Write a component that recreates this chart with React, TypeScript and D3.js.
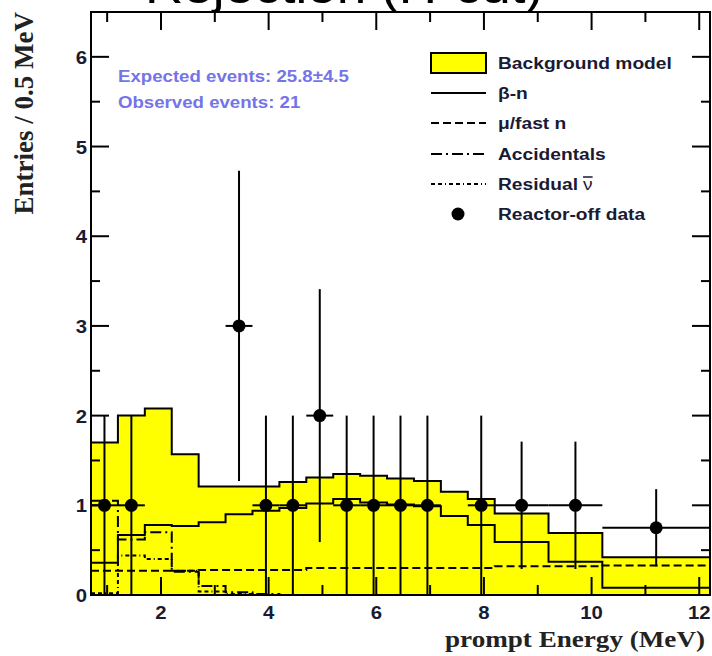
import * as React from "react";
import * as d3 from "d3";

// bin edges (MeV) of the background model histograms
const binEdges = [0.7, 1.2, 1.7, 2.2, 2.7, 3.2, 3.7, 4.2, 4.7, 5.2, 5.7, 6.2, 6.7, 7.2, 7.7, 8.2, 9.2, 10.2, 12.2];

// entries / 0.5 MeV per bin
const backgroundModel = [1.7, 2.0, 2.08, 1.57, 1.21, 1.21, 1.21, 1.26, 1.31, 1.35, 1.33, 1.3, 1.27, 1.15, 1.07, 0.91, 0.69, 0.42];
const betaN = [0.36, 0.67, 0.78, 0.77, 0.81, 0.9, 0.94, 0.97, 1.02, 1.07, 1.03, 1.01, 0.99, 0.88, 0.78, 0.59, 0.37, 0.08];
const muFastN = [0.27, 0.27, 0.27, 0.27, 0.28, 0.28, 0.28, 0.28, 0.3, 0.3, 0.3, 0.3, 0.3, 0.3, 0.3, 0.32, 0.32, 0.33];
const accidentals = [1.05, 0.62, 0.7, 0.26, 0.1, 0.03, 0.01, 0, 0, 0, 0, 0, 0, 0, 0, 0, 0, 0];
const residualNu = [0.02, 0.44, 0.4, 0.27, 0.04, 0.01, 0, 0, 0, 0, 0, 0, 0, 0, 0, 0, 0, 0];

// reactor-off data points
const dataEnergy = [0.95, 1.45, 3.45, 3.95, 4.45, 4.95, 5.45, 5.95, 6.45, 6.95, 7.95, 8.7, 9.7, 11.2];
const dataEntries = [1, 1, 3, 1, 1, 2, 1, 1, 1, 1, 1, 1, 1, 0.75];
const dataErrX = [0.25, 0.25, 0.25, 0.25, 0.25, 0.25, 0.25, 0.25, 0.25, 0.25, 0.25, 0.5, 0.5, 1.0];
const dataErrY = [1, 1, 1.73, 1, 1, 1.41, 1, 1, 1, 1, 1, 0.71, 0.71, 0.43];

const xTickLabels = [2, 4, 6, 8, 10, 12];
const yTickLabels = [0, 1, 2, 3, 4, 5, 6];

const legendLabels = ["Background model", "β-n", "μ/fast n", "Accidentals", "Residual", "Reactor-off data"];
const infoLines = ["Expected events: 25.8±4.5", "Observed events: 21"];

const Chart = () => {
  const svgRef = React.useRef(null);

  React.useEffect(() => {
    const width = 712;
    const height = 656;
    const left = 91;
    const right = 710;
    const top = 12;
    const bottom = 595;
    const sx = 1.13; // text in the figure is a bit stretched horizontally

    const svg = d3.select(svgRef.current);
    svg.selectAll("*").remove();
    svg.attr("width", width).attr("height", height);

    const x = d3.scaleLinear().domain([0.7, 12.2]).range([left, right]);
    const y = d3.scaleLinear().domain([0, 6.5]).range([bottom, top]);

    svg
      .append("defs")
      .append("clipPath")
      .attr("id", "plotclip")
      .append("rect")
      .attr("x", left)
      .attr("y", top)
      .attr("width", right - left)
      .attr("height", bottom - top);

    const stepPoints = (vals) => {
      const pts = vals.map((v, i) => [binEdges[i], v]);
      pts.push([binEdges[binEdges.length - 1], vals[vals.length - 1]]);
      return pts;
    };

    const plot = svg.append("g").attr("clip-path", "url(#plotclip)");

    // yellow background model
    const area = d3
      .area()
      .curve(d3.curveStepAfter)
      .x((d) => x(d[0]))
      .y0(y(0))
      .y1((d) => y(d[1]));
    plot.append("path").attr("d", area(stepPoints(backgroundModel))).attr("fill", "#ffff00");

    const line = d3
      .line()
      .curve(d3.curveStepAfter)
      .x((d) => x(d[0]))
      .y((d) => y(d[1]));

    const comps = [
      { vals: backgroundModel, dash: null },
      { vals: muFastN, dash: "8,4" },
      { vals: accidentals, dash: "11,4,2,4" },
      { vals: residualNu, dash: "4,3,4,3,1,3" },
      { vals: betaN, dash: null },
    ];
    comps.forEach((c) => {
      plot
        .append("path")
        .attr("d", line(stepPoints(c.vals)))
        .attr("fill", "none")
        .attr("stroke", "#000")
        .attr("stroke-width", 2)
        .attr("stroke-dasharray", c.dash);
    });

    // data points with error bars
    const pts = plot.append("g");
    dataEnergy.forEach((e, i) => {
      const v = dataEntries[i];
      pts
        .append("line")
        .attr("x1", x(e - dataErrX[i]))
        .attr("x2", x(e + dataErrX[i]))
        .attr("y1", y(v))
        .attr("y2", y(v))
        .attr("stroke", "#000")
        .attr("stroke-width", 2);
      pts
        .append("line")
        .attr("x1", x(e))
        .attr("x2", x(e))
        .attr("y1", y(Math.max(0, v - dataErrY[i])))
        .attr("y2", y(v + dataErrY[i]))
        .attr("stroke", "#000")
        .attr("stroke-width", 2);
      pts.append("circle").attr("cx", x(e)).attr("cy", y(v)).attr("r", 6.5).attr("fill", "#000");
    });

    // ticks on all four sides
    const ticks = svg.append("g").attr("stroke", "#000").attr("stroke-width", 2);
    x.ticks(12).forEach((t) => {
      const len = t % 2 === 0 ? 18 : 10;
      ticks.append("line").attr("x1", x(t)).attr("x2", x(t)).attr("y1", bottom).attr("y2", bottom - len);
      ticks.append("line").attr("x1", x(t)).attr("x2", x(t)).attr("y1", top).attr("y2", top + len);
    });
    y.ticks(13).forEach((t) => {
      const len = Number.isInteger(t) ? 18 : 9;
      ticks.append("line").attr("x1", left).attr("x2", left + len).attr("y1", y(t)).attr("y2", y(t));
      ticks.append("line").attr("x1", right).attr("x2", right - len).attr("y1", y(t)).attr("y2", y(t));
    });

    svg
      .append("rect")
      .attr("x", left)
      .attr("y", top)
      .attr("width", right - left)
      .attr("height", bottom - top)
      .attr("fill", "none")
      .attr("stroke", "#000")
      .attr("stroke-width", 2);

    const sans = "'Liberation Sans', Arial, sans-serif";
    const serif = "'Liberation Serif', 'Times New Roman', serif";

    const stretched = (px, py, str, opts) => {
      const t = svg
        .append("text")
        .attr("transform", `translate(${px},${py}) scale(${sx},1)`)
        .attr("font-family", opts.family || sans)
        .attr("font-size", opts.size)
        .attr("font-weight", opts.weight || "bold")
        .attr("fill", opts.fill || "#111")
        .attr("text-anchor", opts.anchor || "start")
        .text(str);
      return t;
    };

    xTickLabels.forEach((t) => stretched(x(t), 619, String(t), { size: 18, anchor: "middle", fill: "#1a1a33" }));
    yTickLabels.forEach((t) => stretched(left - 4, y(t) + 7, String(t), { size: 18, anchor: "end", fill: "#1a1a33" }));

    stretched(right - 5, 647, "prompt Energy (MeV)", { size: 24, anchor: "end", family: serif, fill: "#222" });

    svg
      .append("text")
      .attr("transform", `translate(33,12) rotate(-90)`)
      .attr("font-family", serif)
      .attr("font-size", 27)
      .attr("font-weight", "bold")
      .attr("fill", "#222")
      .attr("text-anchor", "end")
      .text("Entries / 0.5 MeV");

    // title, mostly outside the picture
    stretched(145, 3, "Rejection (H-cut)", { size: 47, weight: "normal", fill: "#000" });

    // info text
    infoLines.forEach((s, i) =>
      stretched(118, 82 + i * 26, s, { size: 16.5, fill: "#7474e8" })
    );

    // legend
    const rowY = [63, 93, 123, 154, 184, 214];
    const lx0 = 431;
    const lx1 = 486;
    const tx = 498;
    svg
      .append("rect")
      .attr("x", lx0)
      .attr("y", rowY[0] - 10)
      .attr("width", lx1 - lx0)
      .attr("height", 20)
      .attr("fill", "#ffff00")
      .attr("stroke", "#000")
      .attr("stroke-width", 2);
    const dashes = [null, "8,4", "11,4,2,4", "4,3,4,3,1,3"];
    dashes.forEach((d, i) => {
      svg
        .append("line")
        .attr("x1", lx0)
        .attr("x2", lx1)
        .attr("y1", rowY[i + 1])
        .attr("y2", rowY[i + 1])
        .attr("stroke", "#000")
        .attr("stroke-width", 2)
        .attr("stroke-dasharray", d);
    });
    svg.append("circle").attr("cx", 458).attr("cy", rowY[5]).attr("r", 6.5).attr("fill", "#000");

    legendLabels.forEach((s, i) => {
      const t = stretched(tx, rowY[i] + 6, s, { size: 17, fill: "#1a1a33" });
      if (i === 4) {
        const w = t.node().getComputedTextLength() * sx + 5;
        const nu = stretched(tx + w, rowY[i] + 6, "ν", { size: 17, fill: "#1a1a33", weight: "normal" });
        const nw = nu.node().getComputedTextLength() * sx;
        svg
          .append("line")
          .attr("x1", tx + w)
          .attr("x2", tx + w + nw)
          .attr("y1", rowY[i] - 7)
          .attr("y2", rowY[i] - 7)
          .attr("stroke", "#1a1a33")
          .attr("stroke-width", 1.5);
      }
    });
  }, []);

  return <svg ref={svgRef} style={{ position: "absolute", left: 0, top: 0, background: "#fff" }} />;
};

export default function App() {
  return (
    <div>
      <Chart />
    </div>
  );
}
